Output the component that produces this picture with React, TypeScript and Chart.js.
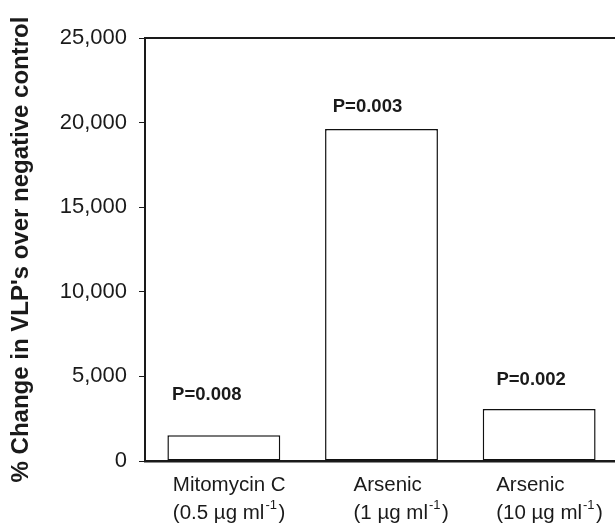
import React, { useEffect, useRef } from "react";
import { Chart, registerables } from "chart.js";

Chart.register(...registerables);

// ---- data ----
const categories = ["Mitomycin C", "Arsenic", "Arsenic"];
const doses = ["(0.5 µg ml⁻¹)", "(1 µg ml⁻¹)", "(10 µg ml⁻¹)"];
const changeValues = [1520, 19620, 3080];
const pValues = ["P=0.008", "P=0.003", "P=0.002"];
const pLabelLevels = [3900, 20950, 4800];
const yTicks = [0, 5000, 10000, 15000, 20000, 25000];
const yTitle = "% Change in VLP's over negative control";

// ---- style ----
const FONT = '"Liberation Sans", Arial, Helvetica, sans-serif';
const TEXT = "#1a1a1a";
const AXIS = "#1a1a1a";
const P_SHIFT = [-17, -14, -8];
const LABEL_SHIFT = [-51, -28, -43];
const CAT_SIZE = 20.5;

function drawWithSup(ctx: CanvasRenderingContext2D, text: string, x: number, y: number) {
  const parts = text.split("⁻¹");
  ctx.font = `${CAT_SIZE}px ${FONT}`;
  ctx.fillText(parts[0], x, y);
  let cx = x + ctx.measureText(parts[0]).width + 1;
  if (parts.length > 1) {
    ctx.font = `13px ${FONT}`;
    ctx.fillText("-1", cx, y - 8);
    cx += ctx.measureText("-1").width + 1.5;
    ctx.font = `${CAT_SIZE}px ${FONT}`;
    ctx.fillText(parts[1], cx, y);
  }
}

const annotationPlugin = {
  id: "annotations",
  afterDatasetsDraw(chart: any) {
    const { ctx, chartArea, scales } = chart;
    const x = scales.x;
    const y = scales.y;
    ctx.save();
    // top frame line
    ctx.strokeStyle = AXIS;
    ctx.lineWidth = 2;
    ctx.beginPath();
    ctx.moveTo(chartArea.left, chartArea.top);
    ctx.lineTo(chartArea.right, chartArea.top);
    ctx.lineTo(chartArea.right, chartArea.bottom);
    ctx.stroke();

    ctx.fillStyle = TEXT;
    ctx.textBaseline = "middle";
    // p-value labels
    ctx.font = `bold 18.5px ${FONT}`;
    ctx.textAlign = "center";
    pValues.forEach((p, i) => {
      ctx.fillText(p, x.getPixelForValue(i) + P_SHIFT[i], y.getPixelForValue(pLabelLevels[i]));
    });
    // category labels
    ctx.textAlign = "left";
    categories.forEach((c, i) => {
      const left = x.getPixelForValue(i) + LABEL_SHIFT[i];
      ctx.font = `${CAT_SIZE}px ${FONT}`;
      ctx.fillText(c, left, chartArea.bottom + 24);
      drawWithSup(ctx, doses[i], left, chartArea.bottom + 52);
    });
    ctx.restore();
  },
};

export default function App() {
  const canvasRef = useRef<HTMLCanvasElement | null>(null);

  useEffect(() => {
    if (!canvasRef.current) return;
    const chart = new Chart(canvasRef.current, {
      type: "bar",
      data: {
        labels: categories,
        datasets: [
          {
            data: changeValues,
            backgroundColor: "#ffffff",
            borderColor: "#111111",
            borderWidth: 1.5,
            borderSkipped: false,
            categoryPercentage: 1,
            barPercentage: 0.716,
          },
        ],
      },
      options: {
        animation: false,
        responsive: true,
        maintainAspectRatio: false,
        layout: { padding: { top: 38, right: 7, left: 0, bottom: 0 } },
        plugins: {
          legend: { display: false },
          tooltip: { enabled: false },
          title: { display: false },
        },
        scales: {
          x: {
            grid: { display: false },
            border: { display: true, color: AXIS, width: 2.5 },
            ticks: { display: false },
            afterFit: (scale: any) => {
              scale.height = 63;
            },
          },
          y: {
            min: 0,
            max: 25000,
            afterBuildTicks: (scale: any) => {
              scale.ticks = yTicks.map((v) => ({ value: v }));
            },
            grid: {
              display: true,
              drawOnChartArea: false,
              drawTicks: true,
              tickLength: 6,
              color: AXIS,
              lineWidth: 1,
            },
            border: { display: true, color: AXIS, width: 2 },
            ticks: {
              padding: 12,
              color: TEXT,
              font: { family: FONT, size: 22 },
              callback: (v: any) => Number(v).toLocaleString("en-US"),
            },
            title: {
              display: true,
              text: yTitle,
              color: TEXT,
              font: { family: FONT, size: 24, weight: "bold" },
              padding: { top: 7, bottom: 0 },
            },
            afterFit: (scale: any) => {
              scale.width = 145;
            },
          },
        },
      },
      plugins: [annotationPlugin],
    });
    return () => chart.destroy();
  }, []);

  return (
    <div
      style={{
        position: "fixed",
        left: 0,
        top: 0,
        width: 615,
        height: 524,
        overflow: "hidden",
        background: "#ffffff",
      }}
    >
      <div style={{ position: "relative", width: 625, height: 524 }}>
        <canvas ref={canvasRef} />
      </div>
    </div>
  );
}
